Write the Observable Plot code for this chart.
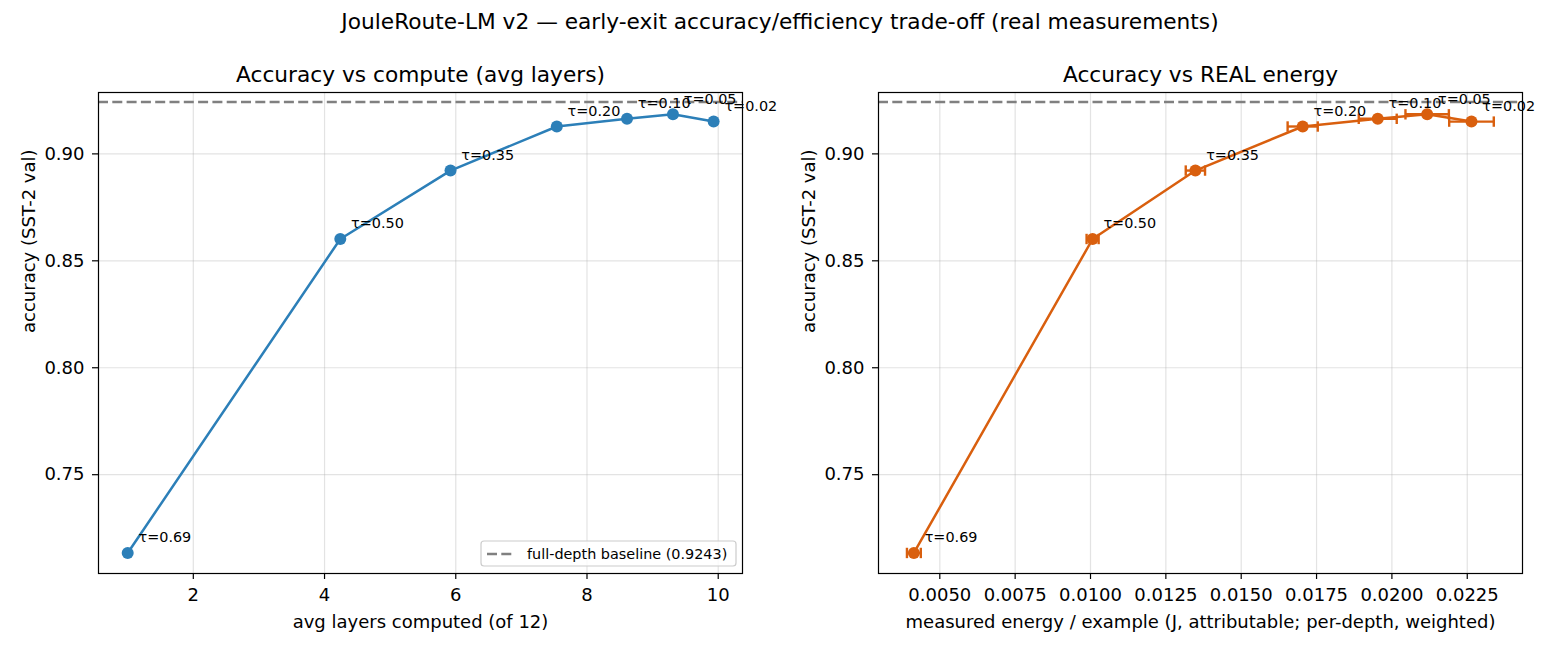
<!DOCTYPE html>
<html>
<head>
<meta charset="utf-8">
<script src="https://cdn.jsdelivr.net/npm/d3@7"></script>
<script src="https://cdn.jsdelivr.net/npm/@observablehq/plot@0.6"></script>
<style>
  html, body { margin: 0; padding: 0; background: #fff; }
  #wrap { position: relative; width: 1560px; height: 650px; overflow: hidden; font-family: "DejaVu Sans", sans-serif; }
  #sup { position: absolute; left: 0; top: 9px; width: 1560px; text-align: center; font-size: 21.7px; line-height: 26px; color: #000; }
  .panel { position: absolute; top: 40px; }
</style>
</head>
<body>
<div id="wrap">
  <div id="sup"></div>
  <div id="left" class="panel" style="left:0px"></div>
  <div id="right" class="panel" style="left:780px"></div>
</div>
<script>
// ---- data ----
const suptitle = "JouleRoute-LM v2 — early-exit accuracy/efficiency trade-off (real measurements)";
const tau = ["0.69", "0.50", "0.35", "0.20", "0.10", "0.05", "0.02"];
const avgLayers = [1.00, 4.24, 5.92, 7.54, 8.61, 9.31, 9.93];
const accuracy = [0.7134, 0.8602, 0.8922, 0.9128, 0.9164, 0.9185, 0.9151];
const energy = [0.00414, 0.01007, 0.01348, 0.01704, 0.01953, 0.02117, 0.02264];
const energyErr = [0.00023, 0.00020, 0.00032, 0.00050, 0.00063, 0.00072, 0.00074];
const baseline = 0.9243;
const xTicksLeft = [2, 4, 6, 8, 10];
const xTicksRight = [0.005, 0.0075, 0.0100, 0.0125, 0.0150, 0.0175, 0.0200, 0.0225];
const yTicks = [0.75, 0.80, 0.85, 0.90];
const titleLeft = "Accuracy vs compute (avg layers)";
const titleRight = "Accuracy vs REAL energy";
const xLabelLeft = "avg layers computed (of 12)";
const xLabelRight = "measured energy / example (J, attributable; per-depth, weighted)";
const yLabel = "accuracy (SST-2 val)";
const legendLabel = `full-depth baseline (${baseline.toFixed(4)})`;

document.getElementById("sup").textContent = suptitle;

const capSymbol = {
  draw(ctx, size) {
    const h = Math.sqrt(size / Math.PI);
    ctx.moveTo(0, -h);
    ctx.lineTo(0, h);
  }
};

function legendMark(index, scales, values, dims) {
  const right = dims.width - dims.marginRight;
  const bottom = dims.height - dims.marginBottom;
  const g = d3.create("svg:g");
  g.append("rect")
    .attr("x", right - 261).attr("y", bottom - 32)
    .attr("width", 255).attr("height", 25).attr("rx", 3)
    .attr("fill", "white").attr("fill-opacity", 0.8)
    .attr("stroke", "#cccccc").attr("stroke-width", 1.2);
  g.append("line")
    .attr("x1", right - 255).attr("x2", right - 230)
    .attr("y1", bottom - 19).attr("y2", bottom - 19)
    .attr("stroke", "#808080").attr("stroke-width", 2.5)
    .attr("stroke-dasharray", "10,4.3");
  g.append("text")
    .attr("x", right - 215).attr("y", bottom - 14.5)
    .attr("text-anchor", "start")
    .attr("font-size", 14.4).attr("fill", "black")
    .text(legendLabel);
  return g.node();
}

function panel({xs, errs, xDomain, xTicks, xFormat, color, title, xLabel, legend}) {
  const rows = tau.map((t, i) => ({tau: t, x: xs[i], acc: accuracy[i], err: errs ? errs[i] : 0}));
  const gridStyle = {stroke: "#b0b0b0", strokeOpacity: 0.35, strokeWidth: 1.2};
  const marks = [
    Plot.gridX({ticks: xTicks, ...gridStyle}),
    Plot.gridY({ticks: yTicks, ...gridStyle}),
    Plot.ruleY([baseline], {stroke: "#808080", strokeWidth: 2.5, strokeDasharray: "10,4.3"}),
    Plot.line(rows, {x: "x", y: "acc", stroke: color, strokeWidth: 2.5})
  ];
  if (errs) {
    marks.push(
      Plot.ruleY(rows, {y: "acc", x1: d => d.x - d.err, x2: d => d.x + d.err, stroke: color, strokeWidth: 2.4}),
      Plot.dot(rows, {x: d => d.x - d.err, y: "acc", symbol: capSymbol, r: 5.2, fill: "none", stroke: color, strokeWidth: 2.4}),
      Plot.dot(rows, {x: d => d.x + d.err, y: "acc", symbol: capSymbol, r: 5.2, fill: "none", stroke: color, strokeWidth: 2.4})
    );
  }
  marks.push(
    Plot.dot(rows, {x: "x", y: "acc", r: 6, fill: color, stroke: "none"}),
    Plot.text(rows, {x: "x", y: "acc", text: d => "τ=" + d.tau, dx: 10.8, dy: -10.8,
      textAnchor: "start", lineAnchor: "bottom", fontSize: 14.4, fill: "black"}),
    Plot.axisX({ticks: xTicks, tickFormat: xFormat, tickSize: 6, tickPadding: 9, fontSize: 18, label: null, strokeWidth: 1.2}),
    Plot.axisY({ticks: yTicks, tickFormat: d3.format(".2f"), tickSize: 6, tickPadding: 8, fontSize: 18, label: null, strokeWidth: 1.2}),
    Plot.frame({stroke: "black", strokeWidth: 1.2}),
    Plot.text([title], {text: d => d, frameAnchor: "top", dy: -10.5, lineAnchor: "bottom", fontSize: 21.7, fill: "black"}),
    Plot.text([xLabel], {text: d => d, frameAnchor: "bottom", dy: 54, lineAnchor: "bottom", fontSize: 18, fill: "black"}),
    Plot.text([yLabel], {text: d => d, frameAnchor: "left", dx: -69, rotate: -90, lineAnchor: "middle", fontSize: 18, fill: "black"})
  );
  if (legend) marks.push(legendMark);
  return Plot.plot({
    width: 780,
    height: 610,
    marginLeft: 98,
    marginRight: 38,
    marginTop: 52,
    marginBottom: 77,
    style: {fontFamily: "DejaVu Sans", fontSize: "18px", background: "white", color: "black", overflow: "visible"},
    x: {domain: xDomain},
    y: {domain: [0.7038, 0.9287]},
    marks
  });
}

document.getElementById("left").appendChild(panel({
  xs: avgLayers, errs: null, xDomain: [0.555, 10.37], xTicks: xTicksLeft,
  xFormat: d3.format("d"), color: "#2c7fb8", title: titleLeft, xLabel: xLabelLeft, legend: true
}));
document.getElementById("right").appendChild(panel({
  xs: energy, errs: energyErr, xDomain: [0.002966, 0.024333], xTicks: xTicksRight,
  xFormat: d3.format(".4f"), color: "#d95f0e", title: titleRight, xLabel: xLabelRight, legend: false
}));
</script>
</body>
</html>
